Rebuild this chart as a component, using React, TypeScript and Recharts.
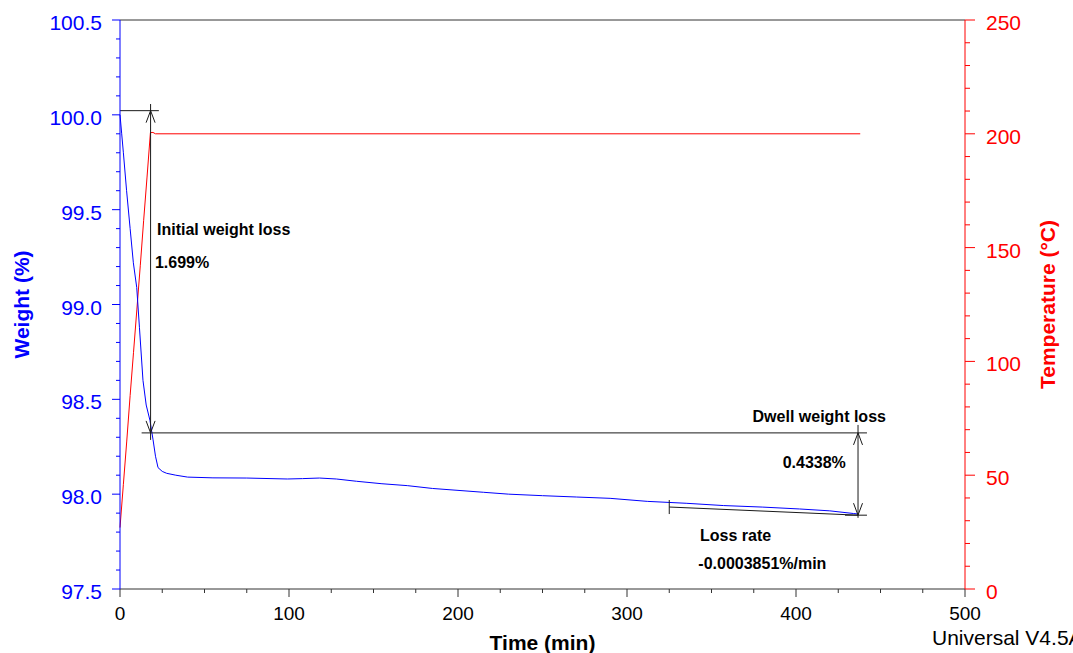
import React from 'react';
import {
  ComposedChart,
  Line,
  XAxis,
  YAxis,
  ReferenceLine,
  ReferenceDot,
  Label,
} from 'recharts';

const FONT = '"Liberation Sans", Arial, sans-serif';
const BLUE = '#0000ff';
const RED = '#ff0000';
const AXIS = '#333333';
const INK = '#1a1a1a';

// Weight trace (time in min, weight in %)
const weightTime = [
  0, 1, 2, 3.9, 6, 7.9, 9.9, 11.5, 13.6, 15.5, 17.7, 19.5, 21, 22.5, 25, 27.6,
  33, 40, 55, 75, 99, 108, 118, 128, 140, 155, 170, 185, 200, 215, 230, 250,
  270, 290, 312, 335, 357, 380, 402, 420, 434, 437,
];
const weightPct = [
  100.0, 99.9, 99.8, 99.6, 99.4, 99.22, 99.09, 98.88, 98.6, 98.47, 98.39,
  98.29, 98.2, 98.14, 98.12, 98.11, 98.1, 98.09, 98.086, 98.085, 98.08, 98.082,
  98.085, 98.08, 98.068, 98.055, 98.045, 98.03, 98.02, 98.01, 98.0, 97.992,
  97.985, 97.978, 97.962, 97.952, 97.94, 97.932, 97.922, 97.912, 97.898,
  97.895,
];

// Temperature trace (time in min, temperature in °C)
const tempTime = [0, 2, 4, 6, 8, 10, 12, 14, 16, 18, 19.5, 21, 438];
const tempC = [27, 46, 65, 85, 104, 123, 142, 162, 181, 200.5, 200.6, 200, 200];

// Axis ticks
const timeTicks = [0, 100, 200, 300, 400, 500];
const weightTicks = [97.5, 98.0, 98.5, 99.0, 99.5, 100.0, 100.5];
const tempTicks = [0, 50, 100, 150, 200, 250];

// Step analysis results
const initialLoss = 1.699;
const dwellLoss = 0.4338;
const lossRate = -0.0003851;
const dwellLevel = 98.323;
const markerTime = 18.1;
const dwellEndTime = 436.7;
const rateStartTime = 325;

const weightData = weightTime.map((t, i) => ({ t, w: weightPct[i] }));
const tempData = tempTime.map((t, i) => ({ t, c: tempC[i] }));

const timeAll = Array.from({ length: 21 }, (_, i) => i * 25);
const weightAll = Array.from({ length: 31 }, (_, i) => Math.round((97.5 + i * 0.1) * 10) / 10);
const tempAll = Array.from({ length: 26 }, (_, i) => i * 10);

const isMajor = (list: number[], v: number) => list.some((m) => Math.abs(m - v) < 1e-6);

const XTick = (props: any) => {
  const { x, y, payload } = props;
  const v = payload.value;
  const major = isMajor(timeTicks, v);
  return (
    <g>
      <line x1={x} x2={x} y1={y} y2={y + (major ? 8 : 4)} stroke={AXIS} strokeWidth={1} />
      {major && (
        <text x={x} y={y + 31} textAnchor="middle" fontSize={19} fill="#000" fontFamily={FONT}>
          {v}
        </text>
      )}
    </g>
  );
};

const WeightTick = (props: any) => {
  const { x, y, payload } = props;
  const v = payload.value;
  const major = isMajor(weightTicks, v);
  return (
    <g>
      <line x1={x} x2={x - (major ? 8 : 4)} y1={y} y2={y} stroke={BLUE} strokeWidth={1} />
      {major && (
        <text x={x - 18} y={y + 10} textAnchor="end" fontSize={21} fill={BLUE} fontFamily={FONT}>
          {v.toFixed(1)}
        </text>
      )}
    </g>
  );
};

const TempTick = (props: any) => {
  const { x, y, payload } = props;
  const v = payload.value;
  const major = isMajor(tempTicks, v);
  return (
    <g>
      <line x1={x} x2={x + (major ? 10 : 5)} y1={y} y2={y} stroke={RED} strokeWidth={1} />
      {major && (
        <text x={x + 21} y={y + 10} textAnchor="start" fontSize={21} fill={RED} fontFamily={FONT}>
          {v}
        </text>
      )}
    </g>
  );
};

const weightTitle = (p: any) => {
  const vb = p.viewBox || { x: 0, y: 20, width: 120, height: 569 };
  const cx = vb.x + 21;
  const cy = vb.y + vb.height / 2;
  return (
    <text
      x={cx}
      y={cy}
      transform={`rotate(-90, ${cx}, ${cy})`}
      textAnchor="middle"
      dominantBaseline="central"
      fontSize={21}
      fontWeight="bold"
      fill={BLUE}
      fontFamily={FONT}
    >
      Weight (%)
    </text>
  );
};

const tempTitle = (p: any) => {
  const vb = p.viewBox || { x: 965, y: 20, width: 108, height: 569 };
  const cx = vb.x + 82;
  const cy = vb.y + vb.height / 2;
  return (
    <text
      x={cx}
      y={cy}
      transform={`rotate(-90, ${cx}, ${cy})`}
      textAnchor="middle"
      dominantBaseline="central"
      fontSize={21}
      fontWeight="bold"
      fill={RED}
      fontFamily={FONT}
    >
      Temperature (°C)
    </text>
  );
};

const timeTitle = (p: any) => {
  const vb = p.viewBox || { x: 120, y: 589, width: 845, height: 64 };
  return (
    <g>
      <text
        x={vb.x + vb.width / 2}
        y={vb.y + 61}
        textAnchor="middle"
        fontSize={21}
        fontWeight="bold"
        fill="#000"
        fontFamily={FONT}
      >
        Time (min)
      </text>
      <text x={vb.x + vb.width - 33} y={vb.y + 56} fontSize={21} fill="#000" fontFamily={FONT}>
        Universal V4.5A TA Instruments
      </text>
    </g>
  );
};

const upArrow = (p: any) => (
  <path d={`M${p.cx - 4.5},${p.cy + 12} L${p.cx},${p.cy} L${p.cx + 4.5},${p.cy + 12}`} fill="none" stroke={INK} strokeWidth={1} />
);
const downArrow = (p: any) => (
  <path d={`M${p.cx - 4.5},${p.cy - 12} L${p.cx},${p.cy} L${p.cx + 4.5},${p.cy - 12}`} fill="none" stroke={INK} strokeWidth={1} />
);

const noteText = (text: string) => (p: any) => (
  <text x={p.cx} y={p.cy} fontSize={16} fontWeight="bold" fill="#000" fontFamily={FONT}>
    {text}
  </text>
);

export default function App() {
  const topLevel = dwellLevel + initialLoss;
  const dwellBottom = dwellLevel - dwellLoss;
  const rateStartW = dwellBottom - lossRate * (dwellEndTime - rateStartTime);

  const segments: [number, number, number, number][] = [
    [0, topLevel, 23, topLevel],
    [markerTime, topLevel + 0.035, markerTime, dwellLevel - 0.037],
    [12.8, dwellLevel, 442, dwellLevel],
    [dwellEndTime, dwellLevel + 0.042, dwellEndTime, dwellBottom - 0.014],
    [429, dwellBottom, 442, dwellBottom],
    [rateStartTime, rateStartW, dwellEndTime, dwellBottom],
    [rateStartTime, rateStartW + 0.037, rateStartTime, rateStartW - 0.037],
  ];

  const arrows: { t: number; w: number; up: boolean }[] = [
    { t: markerTime, w: topLevel, up: true },
    { t: markerTime, w: dwellLevel, up: false },
    { t: dwellEndTime, w: dwellLevel, up: true },
    { t: dwellEndTime, w: dwellBottom, up: false },
  ];

  const notes = [
    { t: 21.9, w: 99.367, text: 'Initial weight loss' },
    { t: 20.7, w: 99.193, text: `${initialLoss.toFixed(3)}%` },
    { t: 374.3, w: 98.381, text: 'Dwell weight loss' },
    { t: 392.1, w: 98.137, text: `${dwellLoss}%` },
    { t: 343.2, w: 97.755, text: 'Loss rate' },
    { t: 342.2, w: 97.606, text: `${lossRate}%/min` },
  ];

  return (
    <div style={{ position: 'absolute', left: 0, top: 0, width: 1073, height: 653, overflow: 'hidden', background: '#fff' }}>
      <ComposedChart width={1073} height={653} margin={{ top: 20, right: 0, bottom: 0, left: 0 }}>
        <XAxis
          type="number"
          dataKey="t"
          domain={[0, 500]}
          ticks={timeAll}
          interval={0}
          height={64}
          tickSize={0}
          tickMargin={0}
          tickLine={false}
          tick={<XTick />}
          axisLine={{ stroke: AXIS }}
          allowDuplicatedCategory={false}
        >
          <Label content={timeTitle} />
        </XAxis>
        <YAxis
          yAxisId="w"
          orientation="left"
          type="number"
          domain={[97.5, 100.5]}
          ticks={weightAll}
          interval={0}
          width={120}
          tickSize={0}
          tickMargin={0}
          tickLine={false}
          tick={<WeightTick />}
          axisLine={{ stroke: BLUE }}
        >
          <Label content={weightTitle} />
        </YAxis>
        <YAxis
          yAxisId="c"
          orientation="right"
          type="number"
          domain={[0, 250]}
          ticks={tempAll}
          interval={0}
          width={108}
          tickSize={0}
          tickMargin={0}
          tickLine={false}
          tick={<TempTick />}
          axisLine={{ stroke: RED }}
        >
          <Label content={tempTitle} />
        </YAxis>

        <ReferenceLine yAxisId="w" y={100.5} stroke={AXIS} strokeWidth={1} />

        <Line
          yAxisId="c"
          data={tempData}
          dataKey="c"
          type="linear"
          stroke={RED}
          strokeWidth={1}
          dot={false}
          activeDot={false}
          isAnimationActive={false}
        />
        <Line
          yAxisId="w"
          data={weightData}
          dataKey="w"
          type="linear"
          stroke={BLUE}
          strokeWidth={1}
          dot={false}
          activeDot={false}
          isAnimationActive={false}
        />

        {segments.map(([x1, y1, x2, y2], i) => (
          <ReferenceLine
            key={`seg-${i}`}
            yAxisId="w"
            segment={[{ x: x1, y: y1 }, { x: x2, y: y2 }]}
            stroke={INK}
            strokeWidth={1}
          />
        ))}
        {arrows.map((a, i) => (
          <ReferenceDot
            key={`arr-${i}`}
            yAxisId="w"
            x={a.t}
            y={a.w}
            r={0}
            shape={a.up ? upArrow : downArrow}
          />
        ))}
        {notes.map((n, i) => (
          <ReferenceDot key={`note-${i}`} yAxisId="w" x={n.t} y={n.w} r={0} shape={noteText(n.text)} />
        ))}
      </ComposedChart>
    </div>
  );
}
